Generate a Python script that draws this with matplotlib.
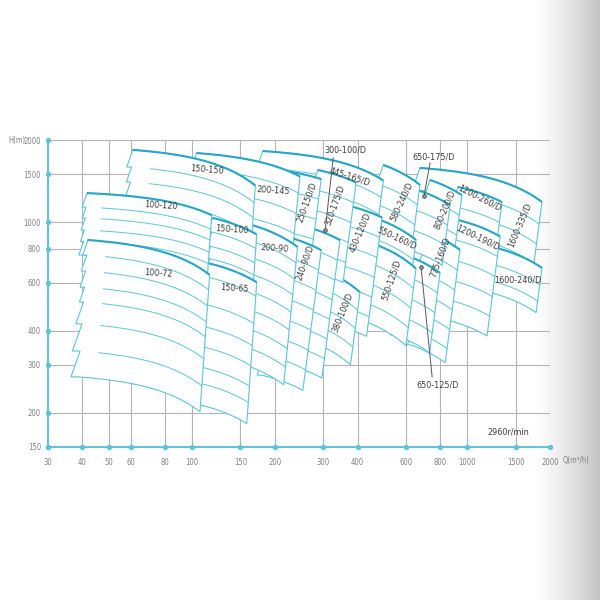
import numpy as np
import matplotlib.pyplot as plt
from matplotlib.ticker import NullLocator

FONT = ['DejaVu Sans']
STRETCH = 'condensed'

q_ticks = [30, 40, 50, 60, 80, 100, 150, 200, 300, 400, 600, 800, 1000, 1500, 2000]
h_ticks = [150, 200, 300, 400, 600, 800, 1000, 1500, 2000]

# pump tiles in drawing order (right / top first, left / bottom on top)
tile_names = ['1600-335/D', '1600-240/D', '1200-260/D', '1200-190/D', '800-200/D',
              '775-160/D', '650-175/D', '650-125/D', '580-240/D', '550-160/D',
              '550-125/D', '445-165/D', '430-120/D', '380-100/D', '320-175/D',
              '300-100/D', '250-150/D', '240-90/D', '200-145', '200-90',
              '150-150', '150-100', '150-65', '100-120', '100-72']
# Q (m3/h) at left / right end of the largest impeller curve
tile_q_left = [674, 903, 927, 927, 733, 705, 660, 595, 496, 483, 470, 181, 362, 318, 287,
               247, 181, 209, 104, 150, 61, 119, 114, 41.6, 41.9]
tile_q_right = [1870, 1870, 1339, 1317, 957, 942, 867, 797, 674, 652, 652, 496, 491, 408, 395,
                345, 295, 295, 247, 242, 170, 172, 172, 118, 116]
# head (m) at left end of each curve, top to bottom
tile_heads = [
    [1580, 1311, 1108, 936, 790],
    [860, 745, 650, 590],
    [1345, 1135, 960],
    [1018, 860, 727, 614, 520, 440],
    [1427, 1205, 1018, 860],
    [920, 775, 655, 555, 470, 400, 355],
    [1311, 1108, 936, 790],
    [758, 640, 541, 457, 386],
    [1620, 1368, 1155, 976],
    [1018, 860, 727],
    [824, 697, 590, 500, 430],
    [1822, 1580, 1367, 1156, 976],
    [1155, 976, 824, 697, 590, 500, 424],
    [651, 560, 480, 410, 353],
    [1553, 1311, 1108, 936, 790, 668],
    [976, 824, 697, 590, 500, 424, 359, 305],
    [1580, 1335, 1127, 953, 806],
    [897, 758, 640, 541, 457, 386, 327, 275],
    [1792, 1560, 1311, 1108, 960, 824],
    [1001, 874, 765, 668, 578, 497, 424, 363, 313],
    [1840, 1592, 1403, 1205, 1036],
    [1036, 920, 815, 735, 668],
    [708, 630, 500, 415, 350, 295, 257, 215],
    [1278, 1135, 1036, 936, 850, 758],
    [860, 758, 662, 578, 510, 424, 337, 271],
]
# head at right end / head at left end
tile_drop = [0.75, 0.79, 0.88, 0.87, 0.88, 0.86, 0.88, 0.86, 0.845, 0.845, 0.82, 0.78, 0.9,
             0.85, 0.9, 0.88, 0.91, 0.88, 0.82, 0.81, 0.74, 0.87, 0.85, 0.83, 0.745]
tile_slant = [0.13] * 18 + [0.1, 0.1, 0.07, 0.07, 0.07, 0.07, 0.07]
tile_inner = [1.0] * 20 + [1.17, 1.0, 1.0, 1.14, 1.17]

label_text = ['150-150', '100-120', '100-72', '200-145', '150-100', '200-90', '150-65',
              '250-150/D', '445-165/D', '320-175/D', '240-90/D', '430-120/D', '380-100/D',
              '580-240/D', '550-160/D', '550-125/D', '800-200/D', '775-160/D',
              '1200-260/D', '1200-190/D', '1600-335/D', '1600-240/D']
label_q = [113.5, 77.2, 75.3, 197, 140, 199, 143, 262, 375, 331, 258, 408, 351,
           580, 556, 533, 831, 797, 1114, 1095, 1557, 1531]
label_h = [1553, 1146, 651, 1300, 936, 804, 569, 1185, 1464, 1155, 714, 920, 469,
           1185, 875, 614, 1117, 745, 1227, 875, 976, 614]
label_rot = [-5, -4, -4, -4, -4, -4, -4, 70, -18, 70, 70, 67, 68,
             65, -25, 71, 67, 69, -27, -26, 67, 0]

pointer_text = ['300-100/D', '650-175/D', '650-125/D']
pointer_q = [360, 752, 784]
pointer_h = [1840, 1733, 253]
pointer_start_q = [326, 733, 746]
pointer_start_h = [1718, 1647, 271]
pointer_dot_q = [305, 697, 680]
pointer_dot_h = [936, 1247, 685]

CYAN = '#5cc4d9'
CYAN_DARK = '#27a6c6'
GRID = '#b4b4b4'
TEXT = '#3c3c3c'


def pump_curve(q1, h1, q2, h2, start=1.0, n=40):
    b = (h1 - h2) / (q2 ** 2 - q1 ** 2)
    a = h1 + b * q1 ** 2
    q = np.geomspace(q1 * start, q2, n)
    return q, a - b * q ** 2


def draw_tile(ax, ql, qr, heads, drop, slant, inner, z, tooth=0.35):
    h0 = heads[0]
    qls = [ql * (h / h0) ** slant for h in heads]
    qrs = [qr * (h / h0) ** slant for h in heads]
    curves = [pump_curve(qls[k], heads[k], qrs[k], heads[k] * drop) for k in range(len(heads))]
    top_q, top_h = curves[0]
    bot_q, bot_h = curves[-1]
    xs = list(top_q)
    ys = list(top_h)
    for k in range(1, len(heads)):
        xs.append(qrs[k])
        ys.append(heads[k] * drop)
    xs += list(bot_q[::-1])
    ys += list(bot_h[::-1])
    for k in range(len(heads) - 1, 0, -1):
        xs.append(qls[k - 1] * (heads[k] / heads[k - 1]) ** tooth)
        ys.append(heads[k])
        xs.append(qls[k - 1])
        ys.append(heads[k - 1])
    ax.fill(xs, ys, facecolor='white', edgecolor='none', zorder=z)
    ax.plot(xs, ys, color=CYAN, lw=0.8, zorder=z + 0.001, solid_joinstyle='miter')
    for k in range(1, len(heads) - 1):
        cq, ch = pump_curve(qls[k], heads[k], qrs[k], heads[k] * drop, start=inner)
        ax.plot(cq, ch, color=CYAN, lw=0.7, zorder=z + 0.002)
    ax.plot(top_q, top_h, color=CYAN_DARK, lw=1.5, zorder=z + 0.003,
            solid_capstyle='butt')


fig = plt.figure(figsize=(6, 6), dpi=100)

# grey fade on the right edge of the page
bg = fig.add_axes([0, 0, 1, 1], zorder=0)
cols = np.arange(600)
t = np.clip((cols - 530) / 70.0, 0, 1)
grad = np.tile(1 - 0.24 * t ** 1.4, (2, 1))
bg.imshow(grad, cmap='gray', vmin=0, vmax=1, aspect='auto', extent=[0, 1, 0, 1])
bg.axis('off')

ax = fig.add_axes([48 / 600, 1 - 447 / 600, 502 / 600, 307 / 600], zorder=1)
ax.patch.set_alpha(0)
ax.set_xscale('log')
ax.set_yscale('log')
ax.set_xlim(30, 2000)
ax.set_ylim(150, 2000)

for q in q_ticks[1:]:
    ax.plot([q, q], [150, 2000], color=GRID, lw=0.8, zorder=1)
for h in h_ticks[1:]:
    ax.plot([30, 2000], [h, h], color=GRID, lw=0.8, zorder=1)

for i in range(len(tile_names)):
    draw_tile(ax, tile_q_left[i], tile_q_right[i], tile_heads[i], tile_drop[i],
              tile_slant[i], tile_inner[i], 2 + i * 0.01)

for txt, q, h, r in zip(label_text, label_q, label_h, label_rot):
    ax.text(q, h, txt, rotation=r, rotation_mode='anchor', ha='center', va='center',
            fontsize=6.5, color=TEXT, family=FONT, stretch=STRETCH, zorder=10)

for i, txt in enumerate(pointer_text):
    ax.plot([pointer_start_q[i], pointer_dot_q[i]], [pointer_start_h[i], pointer_dot_h[i]],
            color='#555555', lw=0.7, zorder=10)
    ax.plot(pointer_dot_q[i], pointer_dot_h[i], 'o', ms=2.6, mfc='#9a9a9a', mec='#444444',
            mew=0.6, zorder=11)
    ax.text(pointer_q[i], pointer_h[i], txt, ha='center', va='center', fontsize=6.5,
            color=TEXT, family=FONT, stretch=STRETCH, zorder=10)

ax.text(1408, 170, '2960r/min', ha='center', va='center', fontsize=6.5, color=TEXT,
        family=FONT, stretch=STRETCH, zorder=10)

for s in ['top', 'right']:
    ax.spines[s].set_visible(False)
for s in ['left', 'bottom']:
    ax.spines[s].set_color(CYAN)
    ax.spines[s].set_linewidth(1.4)
    ax.spines[s].set_zorder(12)

ax.plot([30] * len(h_ticks), h_ticks, 'o', ms=2.8, color=CYAN, clip_on=False, zorder=13)
ax.plot(q_ticks, [150] * len(q_ticks), 'o', ms=2.8, color=CYAN, clip_on=False, zorder=13)

ax.set_xticks(q_ticks)
ax.set_xticklabels([str(q) for q in q_ticks])
ax.set_yticks(h_ticks)
ax.set_yticklabels([str(h) for h in h_ticks])
ax.xaxis.set_minor_locator(NullLocator())
ax.yaxis.set_minor_locator(NullLocator())
ax.tick_params(axis='x', length=0, labelsize=5.5, labelcolor='#808080', pad=8)
ax.tick_params(axis='y', length=0, labelsize=5.5, labelcolor='#808080', pad=5)
for lab in ax.get_xticklabels() + ax.get_yticklabels():
    lab.set_family(FONT)
    lab.set_stretch(STRETCH)

fig.text(8 / 600, 1 - 140 / 600, 'H(m)', ha='left', va='center', fontsize=5.5,
         color='#808080', family=FONT, stretch=STRETCH)
fig.text(563 / 600, 1 - 461 / 600, 'Q(m³/h)', ha='left', va='center', fontsize=5.5,
         color='#808080', family=FONT, stretch=STRETCH)

fig.savefig('out.png', dpi=100)
